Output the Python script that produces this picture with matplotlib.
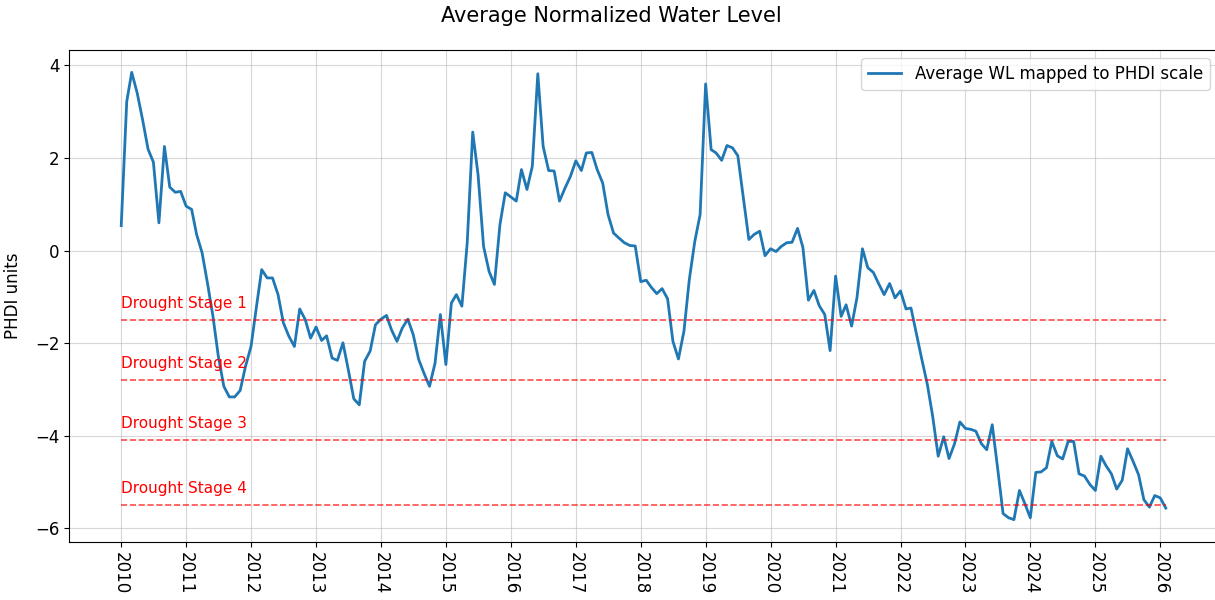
import matplotlib
matplotlib.use("Agg")
import matplotlib.pyplot as plt
import matplotlib.dates as mdates
import pandas as pd

# Monthly average water level mapped to PHDI, Jan 2010 .. Feb 2026
start_month = "2010-01-01"
wl_2010 = [0.54, 3.22, 3.85, 3.40, 2.83, 2.19, 1.91, 0.60, 2.25, 1.37, 1.26, 1.28]
wl_2011 = [0.96, 0.89, 0.35, -0.05, -0.70, -1.42, -2.28, -2.93, -3.16, -3.16, -3.02, -2.50]
wl_2012 = [-2.07, -1.20, -0.41, -0.59, -0.59, -0.95, -1.56, -1.85, -2.07, -1.26, -1.49, -1.89]
wl_2013 = [-1.65, -1.94, -1.84, -2.32, -2.37, -1.99, -2.57, -3.20, -3.33, -2.39, -2.17, -1.60]
wl_2014 = [-1.48, -1.40, -1.71, -1.96, -1.67, -1.48, -1.81, -2.35, -2.66, -2.93, -2.43, -1.38]
wl_2015 = [-2.46, -1.13, -0.95, -1.20, 0.17, 2.56, 1.64, 0.09, -0.45, -0.73, 0.56, 1.25]
wl_2016 = [1.16, 1.07, 1.75, 1.32, 1.82, 3.82, 2.25, 1.73, 1.72, 1.07, 1.35, 1.60]
wl_2017 = [1.94, 1.73, 2.11, 2.12, 1.75, 1.46, 0.78, 0.38, 0.27, 0.17, 0.11, 0.10]
wl_2018 = [-0.67, -0.64, -0.79, -0.93, -0.82, -1.04, -1.96, -2.34, -1.74, -0.63, 0.20, 0.78]
wl_2019 = [3.60, 2.18, 2.11, 1.95, 2.27, 2.22, 2.05, 1.14, 0.24, 0.35, 0.42, -0.11]
wl_2020 = [0.04, -0.02, 0.09, 0.17, 0.18, 0.48, 0.07, -1.07, -0.86, -1.19, -1.38, -2.16]
wl_2021 = [-0.55, -1.42, -1.17, -1.63, -1.02, 0.04, -0.37, -0.47, -0.72, -0.95, -0.71, -1.02]
wl_2022 = [-0.87, -1.26, -1.24, -1.81, -2.35, -2.89, -3.58, -4.44, -4.02, -4.49, -4.17, -3.70]
wl_2023 = [-3.84, -3.86, -3.90, -4.17, -4.30, -3.76, -4.69, -5.68, -5.77, -5.81, -5.18, -5.46]
wl_2024 = [-5.77, -4.79, -4.78, -4.69, -4.12, -4.43, -4.50, -4.12, -4.12, -4.82, -4.87, -5.05]
wl_2025 = [-5.18, -4.44, -4.64, -4.82, -5.15, -4.96, -4.28, -4.55, -4.84, -5.38, -5.54, -5.29]
wl_2026 = [-5.34, -5.56]

stage_names = ["Drought Stage 1", "Drought Stage 2", "Drought Stage 3", "Drought Stage 4"]
stage_levels = [-1.5, -2.8, -4.1, -5.5]

values = (wl_2010 + wl_2011 + wl_2012 + wl_2013 + wl_2014 + wl_2015 + wl_2016 + wl_2017
          + wl_2018 + wl_2019 + wl_2020 + wl_2021 + wl_2022 + wl_2023 + wl_2024 + wl_2025 + wl_2026)
dates = pd.date_range(start_month, periods=len(values), freq="MS")

fig = plt.figure(figsize=(12.15, 6), dpi=100)
# the original is cropped just before the right spine
ax = fig.add_axes([69 / 1215, 58 / 600, 1149 / 1215, 492 / 600])
ax.spines["right"].set_visible(False)

ax.plot(dates, values, color="#1f77b4", linewidth=2, label="Average WL mapped to PHDI scale")

# drought thresholds
for name, lvl in zip(stage_names, stage_levels):
    ax.hlines(lvl, dates[0], dates[-1], colors="red", linestyles="--", alpha=0.7, linewidth=1.2)
    ax.text(dates[0], lvl + 0.2, name, color="red", fontsize=11, va="bottom", ha="left")

ax.xaxis.set_major_locator(mdates.YearLocator())
ax.xaxis.set_major_formatter(mdates.DateFormatter("%Y"))
plt.setp(ax.get_xticklabels(), rotation=-90, ha="center")
ax.tick_params(labelsize=12)

ax.set_ylabel("PHDI units", fontsize=12)
ax.yaxis.set_label_coords(-0.041, 0.5)
ax.grid(True, alpha=0.5)
ax.legend(loc="upper right", fontsize=12)

fig.suptitle("Average Normalized Water Level", fontsize=15, x=0.503, y=0.973, va="center")

fig.savefig("out.png", dpi=100)
